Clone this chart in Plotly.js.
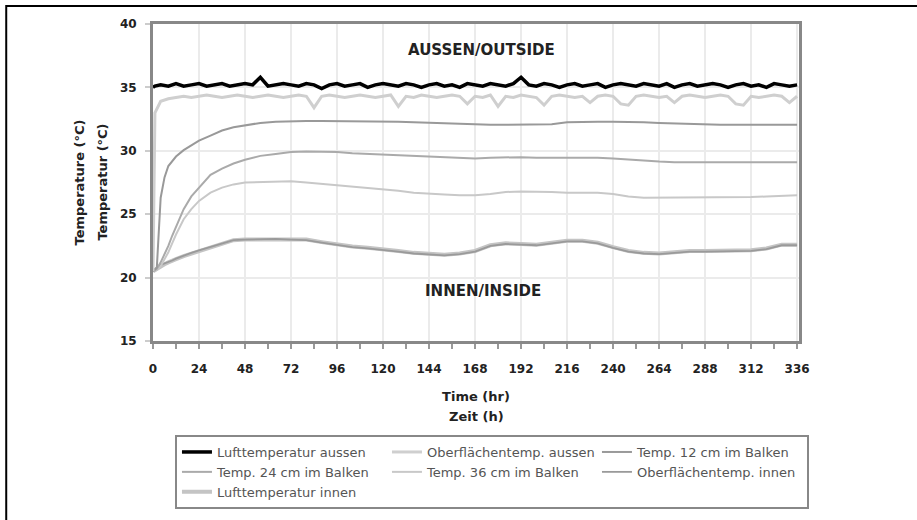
<!DOCTYPE html>
<html>
<head>
<meta charset="utf-8">
<script src="https://cdn.plot.ly/plotly-3.0.1.min.js"></script>
<style>
  html, body { margin: 0; padding: 0; background: #ffffff; }
  #chart { width: 917px; height: 520px; }
</style>
</head>
<body>
<div id="chart"></div>
<script>
// ---------- DATA ----------
const seriesNames = [
  "Lufttemperatur aussen",
  "Oberflächentemp. aussen",
  "Temp. 12 cm im Balken",
  "Temp. 24 cm im Balken",
  "Temp. 36 cm im Balken",
  "Oberflächentemp. innen",
  "Lufttemperatur innen"
];

// time (h) for the measured outside values
const timeOutside = [
  0, 1, 4, 8, 12, 16, 20, 24, 28, 32, 36, 40, 44, 48,
  52, 56, 60, 64, 68, 72, 76, 80, 84, 88, 92, 96,
  100, 104, 108, 112, 116, 120, 124, 128, 132, 136, 140, 144,
  148, 152, 156, 160, 164, 168, 172, 176, 180, 184, 188, 192,
  196, 200, 204, 208, 212, 216, 220, 224, 228, 232, 236, 240,
  244, 248, 252, 256, 260, 264, 268, 272, 276, 280, 284, 288,
  292, 296, 300, 304, 308, 312, 316, 320, 324, 328, 332, 336
];

const luftAussen = [
  35.0, 35.1, 35.2, 35.1, 35.3, 35.1, 35.2, 35.3, 35.1, 35.2, 35.3, 35.1, 35.2, 35.3,
  35.2, 35.8, 35.1, 35.2, 35.3, 35.2, 35.1, 35.3, 35.2, 34.9, 35.2, 35.3,
  35.1, 35.2, 35.3, 35.0, 35.2, 35.3, 35.2, 35.1, 35.3, 35.2, 35.0, 35.2,
  35.3, 35.1, 35.2, 35.0, 35.3, 35.2, 35.1, 35.3, 35.2, 35.1, 35.3, 35.8,
  35.2, 35.1, 35.3, 35.2, 35.0, 35.2, 35.3, 35.1, 35.2, 35.3, 35.0, 35.2,
  35.3, 35.2, 35.1, 35.3, 35.2, 35.1, 35.3, 35.0, 35.2, 35.3, 35.1, 35.2,
  35.3, 35.2, 35.0, 35.2, 35.3, 35.1, 35.2, 35.0, 35.3, 35.2, 35.1, 35.2
];

const oberflAussen = [
  20.5, 33.0, 33.9, 34.1, 34.2, 34.3, 34.2, 34.3, 34.4, 34.3, 34.2, 34.3, 34.4, 34.3,
  34.2, 34.3, 34.4, 34.3, 34.2, 34.3, 34.4, 34.3, 33.4, 34.3, 34.4, 34.3,
  34.2, 34.3, 34.4, 34.3, 34.2, 34.3, 34.4, 33.5, 34.3, 34.2, 34.4, 34.3,
  34.2, 34.3, 34.4, 34.3, 33.7, 34.3, 34.2, 34.4, 33.5, 34.3, 34.2, 34.4,
  34.3, 34.2, 33.6, 34.3, 34.4, 34.3, 34.2, 34.3, 33.8, 34.3, 34.4, 34.3,
  33.7, 33.6, 34.3, 34.4, 34.3, 34.2, 34.3, 33.8, 34.3, 34.4, 34.3, 34.2,
  34.3, 34.4, 34.3, 33.7, 33.6, 34.3, 34.2, 34.3, 34.4, 34.3, 33.8, 34.3
];

// time (h) for the beam / inside values
const timeInner = [
  0, 2, 4, 6, 8, 10, 12, 16, 20, 24, 30, 36, 42, 48,
  56, 64, 72, 80, 88, 96, 104, 112, 120, 128,
  136, 144, 152, 160, 168, 176, 184, 192, 200, 208,
  216, 224, 232, 240, 248, 256, 264, 272, 280, 288,
  296, 304, 312, 320, 328, 336
];

const temp12 = [
  20.5, 20.8, 26.3, 27.9, 28.8, 29.2, 29.55, 30.05, 30.45, 30.8, 31.2, 31.6, 31.85, 32.0,
  32.2, 32.3, 32.35, 32.35, 32.35, 32.35, 32.3, 32.3, 32.3, 32.3,
  32.25, 32.2, 32.15, 32.1, 32.05, 32.05, 32.05, 32.05, 32.05, 32.1,
  32.25, 32.3, 32.3, 32.3, 32.3, 32.25, 32.2, 32.15, 32.1, 32.05,
  32.05, 32.05, 32.05, 32.05, 32.05, 32.05
];

const temp24 = [
  20.5, 20.7, 21.2, 21.8, 22.5, 23.3, 24.0, 25.4, 26.4, 27.1, 28.1, 28.6, 29.0, 29.3,
  29.6, 29.75, 29.9, 29.95, 29.95, 29.9, 29.8, 29.75, 29.7, 29.65,
  29.6, 29.55, 29.45, 29.4, 29.4, 29.45, 29.5, 29.5, 29.45, 29.45,
  29.45, 29.5, 29.45, 29.4, 29.3, 29.2, 29.15, 29.1, 29.1, 29.1,
  29.1, 29.1, 29.1, 29.1, 29.1, 29.1
];

const temp36 = [
  20.5, 20.6, 20.9, 21.4, 22.0, 22.7, 23.4, 24.6, 25.4, 26.05, 26.7, 27.1, 27.35, 27.5,
  27.55, 27.6, 27.6, 27.5, 27.4, 27.3, 27.2, 27.05, 26.95, 26.85,
  26.7, 26.6, 26.55, 26.5, 26.5, 26.6, 26.75, 26.8, 26.8, 26.75,
  26.7, 26.7, 26.7, 26.6, 26.4, 26.3, 26.3, 26.3, 26.3, 26.3,
  26.3, 26.35, 26.35, 26.4, 26.45, 26.5
];

const oberflInnen = [
  20.5, 20.8, 21.0, 21.1, 21.25, 21.35, 21.5, 21.75, 21.95, 22.15, 22.4, 22.7, 22.95, 23.0,
  23.05, 23.05, 23.0, 22.95, 22.75, 22.55, 22.4, 22.3, 22.2, 22.05,
  21.9, 21.8, 21.75, 21.85, 22.05, 22.5, 22.65, 22.6, 22.55, 22.7,
  22.85, 22.85, 22.7, 22.35, 22.05, 21.9, 21.85, 21.95, 22.05, 22.05,
  22.05, 22.05, 22.1, 22.25, 22.55, 22.55
];

const luftInnen = [
  20.5, 20.7, 20.9, 21.05, 21.2, 21.3, 21.45, 21.7, 21.9, 22.1, 22.35, 22.65, 22.95, 23.0,
  23.0, 23.0, 23.0, 23.0, 22.8, 22.6, 22.45, 22.35, 22.25, 22.1,
  21.95, 21.85, 21.8, 21.9, 22.1, 22.55, 22.7, 22.65, 22.6, 22.75,
  22.9, 22.9, 22.75, 22.4, 22.1, 21.95, 21.9, 22.0, 22.1, 22.1,
  22.1, 22.1, 22.15, 22.3, 22.6, 22.6
];

const xTickVals = [0, 24, 48, 72, 96, 120, 144, 168, 192, 216, 240, 264, 288, 312, 336];
const yTickVals = [15, 20, 25, 30, 35, 40];

const xTitle = "Time (hr)";
const xTitle2 = "Zeit (h)";
const yTitle = "Temperature (°C)";
const yTitle2 = "Temperatur (°C)";
const labelOutside = "AUSSEN/OUTSIDE";
const labelInside = "INNEN/INSIDE";

// ---------- TRACES ----------
const FONT = "DejaVu Sans, Liberation Sans, Arial, sans-serif";

function tr(x, y, idx, color, width) {
  return {
    type: "scatter", mode: "lines",
    x: x, y: y, name: seriesNames[idx],
    legendrank: idx + 1,
    line: { color: color, width: width },
    hoverinfo: "x+y+name"
  };
}

const data = [
  tr(timeInner, luftInnen, 6, "#c4c4c4", 4),
  tr(timeInner, oberflInnen, 5, "#9a9a9a", 1.8),
  tr(timeInner, temp36, 4, "#c8c8c8", 2),
  tr(timeInner, temp24, 3, "#aaaaaa", 2),
  tr(timeInner, temp12, 2, "#999999", 2),
  tr(timeOutside, oberflAussen, 1, "#cfcfcf", 3),
  tr(timeOutside, luftAussen, 0, "#000000", 3.5)
];

const layout = {
  width: 917, height: 520,
  margin: { l: 153, r: 118, t: 24, b: 178, pad: 0 },
  paper_bgcolor: "#ffffff",
  plot_bgcolor: "#ffffff",
  font: { family: FONT, color: "#222222", size: 12 },
  showlegend: true,
  legend: {
    orientation: "h",
    x: 0.034, xanchor: "left",
    y: -0.2925, yanchor: "top",
    entrywidth: 165, entrywidthmode: "pixels",
    itemwidth: 30,
    bgcolor: "#ffffff",
    bordercolor: "#888888", borderwidth: 2,
    font: { family: FONT, size: 13, color: "#555555" },
    traceorder: "normal"
  },
  xaxis: {
    range: [0, 337],
    tickmode: "array", tickvals: xTickVals,
    ticks: "outside", ticklen: 5, tickwidth: 2, tickcolor: "#999999",
    minor: { dtick: 12, tick0: 0, ticks: "outside", ticklen: 5, tickwidth: 2, tickcolor: "#999999", showgrid: false },
    ticklabelstandoff: 10,
    tickfont: { family: FONT, size: 12, color: "#222222", weight: "bold" },
    showgrid: true, gridcolor: "#ebebeb", gridwidth: 2,
    zeroline: false,
    showline: true, linecolor: "#888888", linewidth: 3, mirror: true,
    title: { text: xTitle, font: { family: FONT, size: 13, color: "#222222", weight: "bold" }, standoff: 17 }
  },
  yaxis: {
    range: [15, 40],
    tickmode: "array", tickvals: yTickVals,
    ticks: "outside", ticklen: 5, tickwidth: 2, tickcolor: "#cccccc",
    ticklabelstandoff: 6,
    tickfont: { family: FONT, size: 12, color: "#222222", weight: "bold" },
    showgrid: true, gridcolor: "#ebebeb", gridwidth: 2,
    zeroline: false,
    showline: true, linecolor: "#888888", linewidth: 3, mirror: true,
    title: { text: yTitle, font: { family: FONT, size: 13, color: "#222222", weight: "bold" }, standoff: 33 }
  },
  annotations: [
    { x: 171.4, y: 37.95, xref: "x", yref: "y", text: labelOutside, showarrow: false,
      font: { family: FONT, size: 15, color: "#222222", weight: "bold" } },
    { x: 172.4, y: 18.95, xref: "x", yref: "y", text: labelInside, showarrow: false,
      font: { family: FONT, size: 15, color: "#222222", weight: "bold" } },
    { x: 0.5, y: (342 - 418) / 318, xref: "paper", yref: "paper", text: xTitle2, showarrow: false,
      xanchor: "center", yanchor: "middle",
      font: { family: FONT, size: 13, color: "#222222", weight: "bold" } },
    { x: (102 - 153) / 647, y: 0.5, xref: "paper", yref: "paper", text: yTitle2, showarrow: false,
      textangle: -90, xanchor: "center", yanchor: "middle",
      font: { family: FONT, size: 13, color: "#222222", weight: "bold" } }
  ],
  shapes: [
    { type: "rect", xref: "paper", yref: "paper",
      x0: (6 - 153) / 647, x1: (930 - 153) / 647,
      y0: (342 - 6) / 318, y1: (342 - 530) / 318,
      line: { color: "#000000", width: 2 }, fillcolor: "rgba(0,0,0,0)", layer: "below" }
  ]
};

Plotly.newPlot("chart", data, layout, { displayModeBar: false, staticPlot: false });
</script>
</body>
</html>
